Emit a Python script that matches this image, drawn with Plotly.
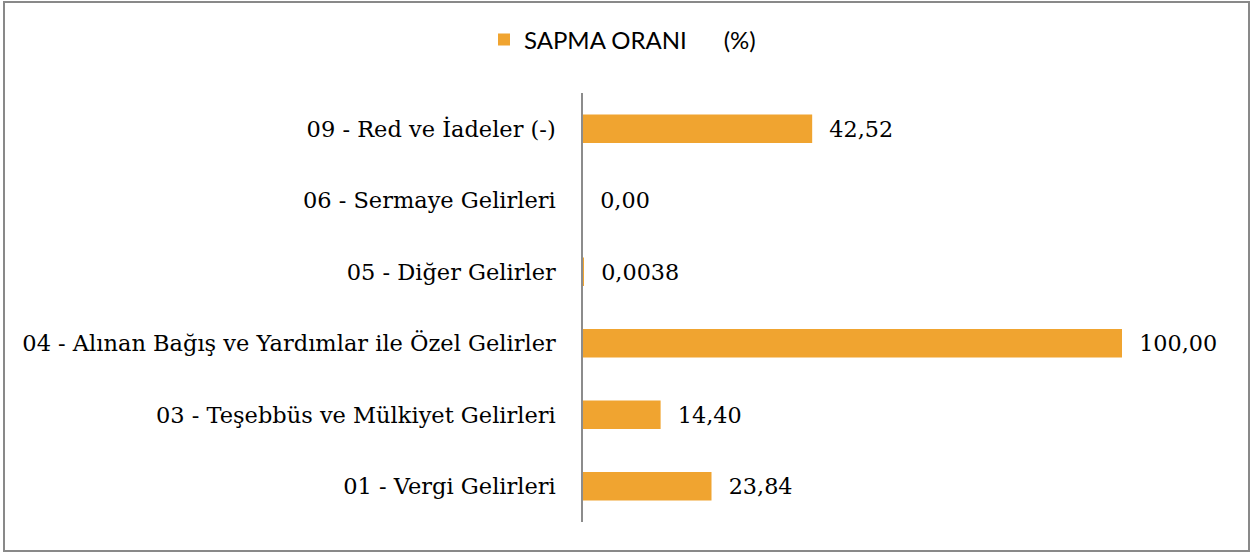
import plotly.graph_objects as go

categories = [
    "09 - Red ve İadeler (-)",
    "06 - Sermaye Gelirleri",
    "05 - Diğer Gelirler",
    "04 - Alınan Bağış ve Yardımlar ile Özel Gelirler",
    "03 - Teşebbüs ve Mülkiyet Gelirleri",
    "01 - Vergi Gelirleri",
]
values = [42.52, 0.0, 0.0038, 100.0, 14.40, 23.84]
value_labels = ["42,52", "0,00", "0,0038", "100,00", "14,40", "23,84"]
series_name = "SAPMA ORANI\u00a0\u00a0\u00a0\u00a0\u00a0\u00a0(%)"

W, H = 1254, 553
L, R, T, B = 583, 132, 93, 31
pw, ph = W - L - R, H - T - B

def px_x(x):
    return (x - L) / pw

def px_y(y):
    return (H - B - y) / ph

serif = "DejaVu Serif"
fig = go.Figure()
fig.add_trace(go.Bar(
    y=categories, x=values, orientation="h", name=series_name,
    marker=dict(color="#F0A430", line=dict(width=0)),
    text=value_labels, textposition="outside", cliponaxis=False,
    texttemplate="\u00a0\u00a0%{text}",
    textfont=dict(family=serif, size=22.3, color="#000000"),
))

fig.update_layout(
    width=W, height=H,
    margin=dict(l=L, r=R, t=T, b=B),
    plot_bgcolor="white", paper_bgcolor="white",
    bargap=0.6,
    showlegend=True,
    legend=dict(orientation="h", x=px_x(484), y=px_y(40), xanchor="left", yanchor="middle",
                font=dict(family="Lato", size=24, color="#000000"), bgcolor="rgba(0,0,0,0)"),
    xaxis=dict(range=[0, 100], visible=False, fixedrange=True),
    yaxis=dict(categoryorder="array", categoryarray=categories[::-1],
               showline=True, linecolor="#8c8c8c", linewidth=1.5,
               showgrid=False, ticks="", ticklabelstandoff=21,
               tickfont=dict(family=serif, size=22.5, color="#000000")),
    shapes=[dict(type="rect", xref="paper", yref="paper",
                 x0=px_x(4), x1=px_x(1249), y0=px_y(551), y1=px_y(2),
                 line=dict(color="#898989", width=2), fillcolor="rgba(0,0,0,0)", layer="below")],
)

fig.write_html("out.html", post_script="document.body.style.margin='0';",
               config={"displayModeBar": False})
